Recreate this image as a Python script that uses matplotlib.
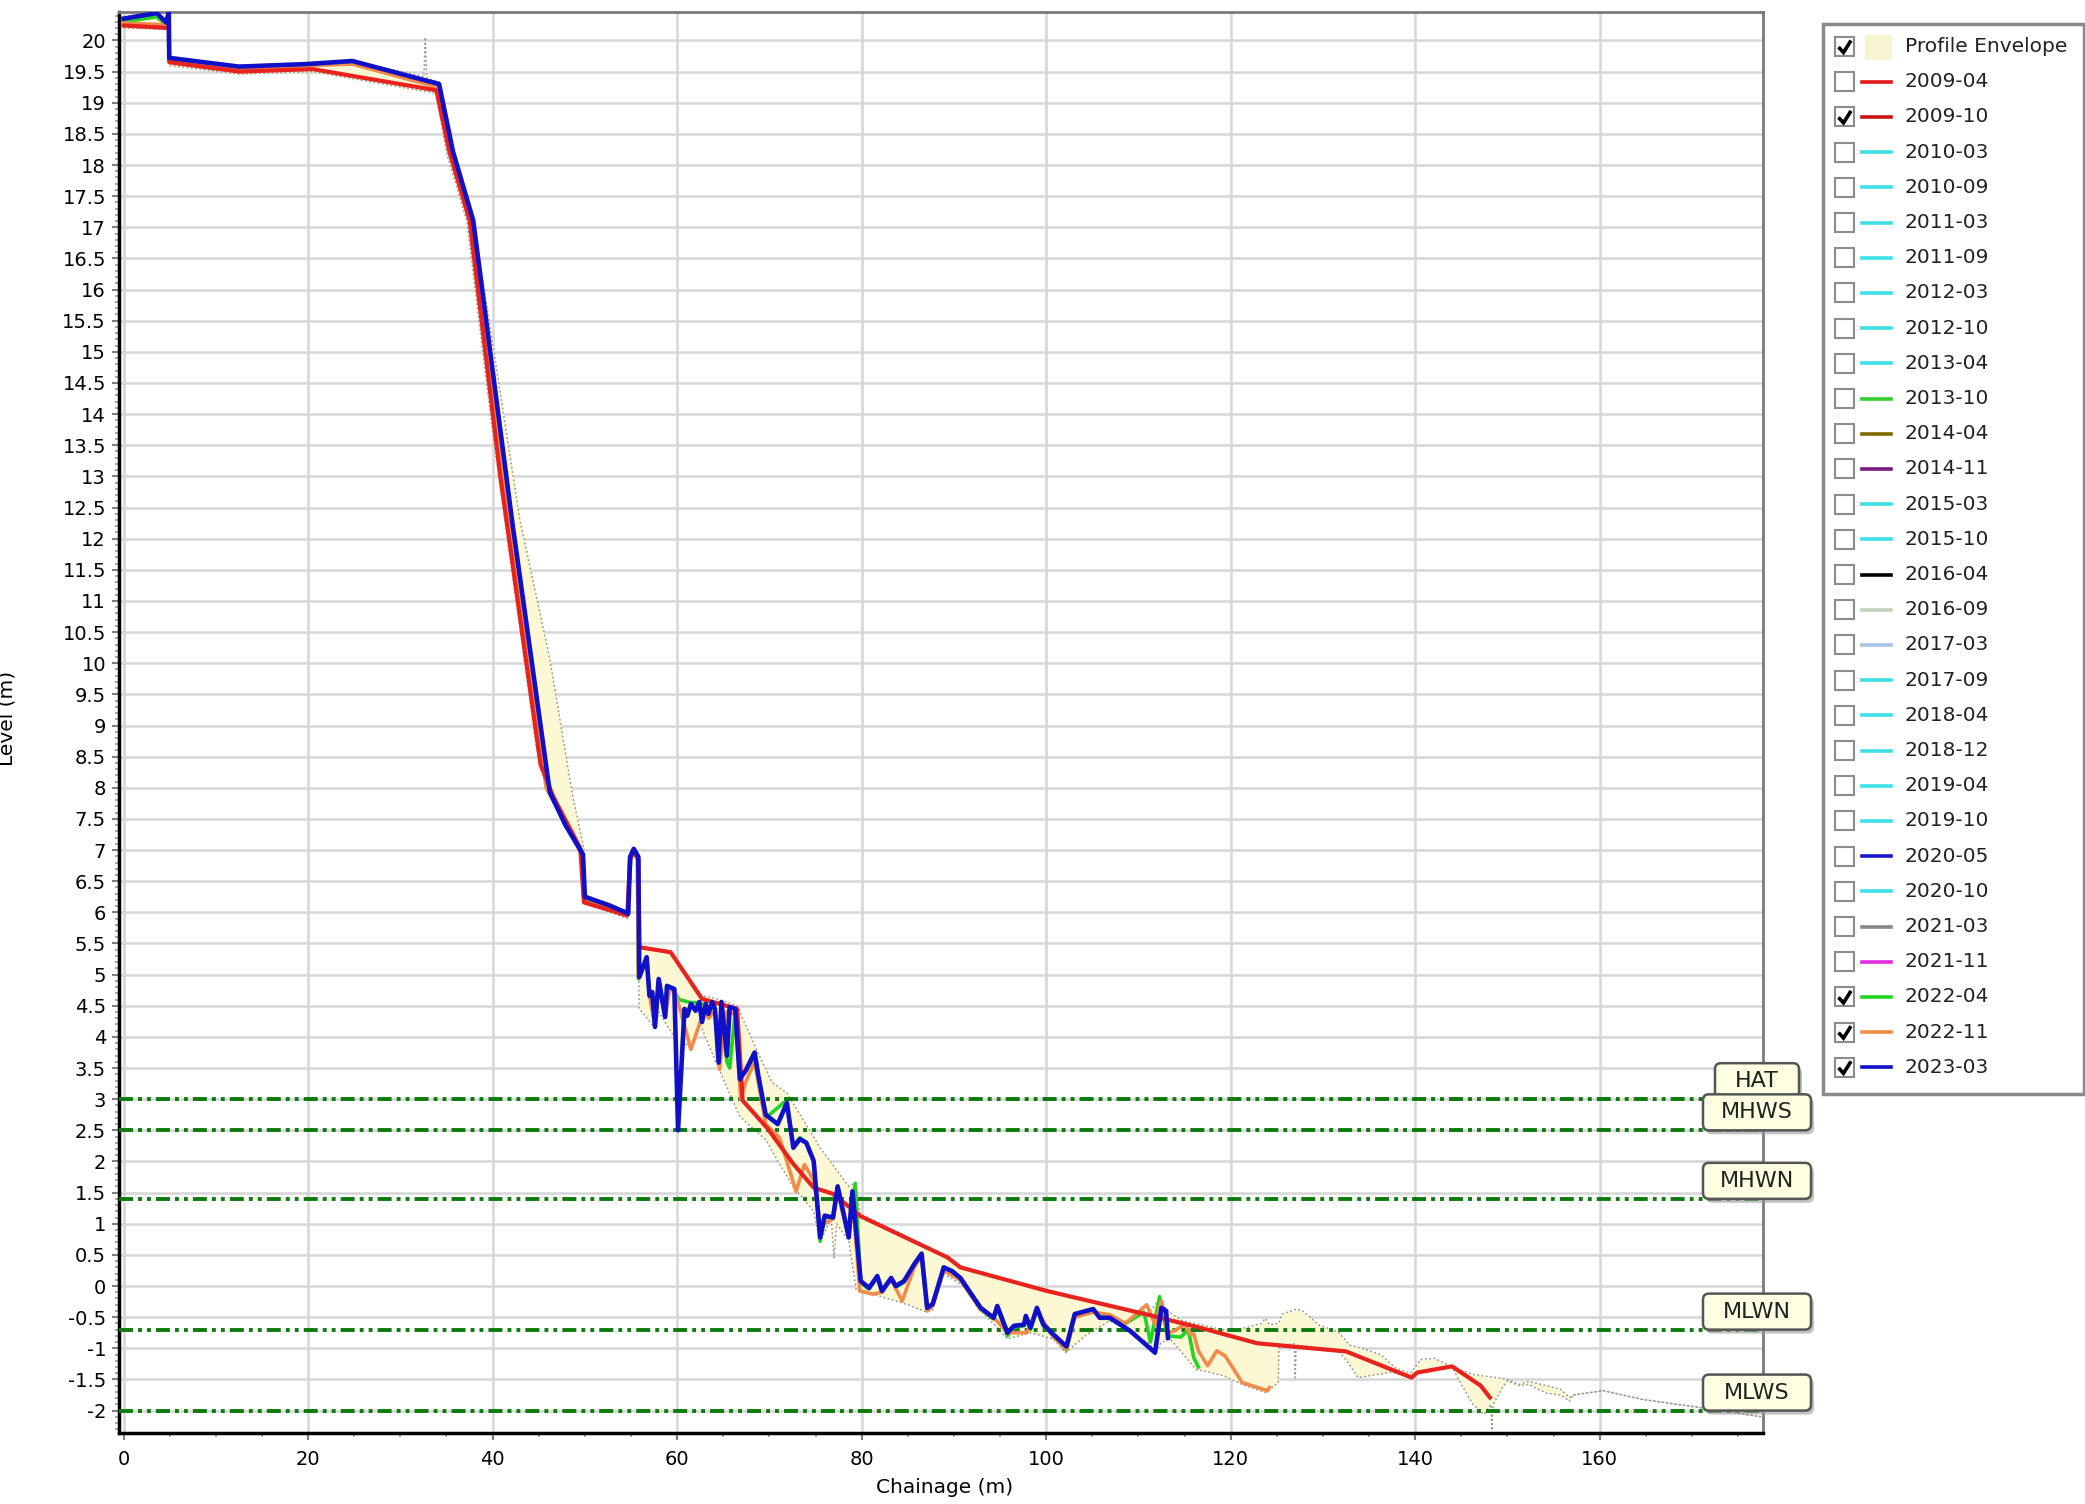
import matplotlib
matplotlib.use("Agg")
import matplotlib.pyplot as plt
import numpy as np
from matplotlib.patches import FancyBboxPatch, Rectangle
from matplotlib.ticker import FuncFormatter, MultipleLocator
from matplotlib.transforms import IdentityTransform

# --- profile data (chainage m, level m) ---
red_x = [0, 4.9, 4.95, 12.5, 20.5, 33.9, 35.3, 37.5, 40.8, 45.2, 46.6, 49.5, 49.9,
         54.6, 54.9, 55.3, 55.8, 55.9, 59.3, 62.7, 66.5, 67.1, 69.8, 72.6, 74.8,
         76.9, 79.9, 89.3, 90.7, 100.1, 111.0, 116.7, 122.9, 132.5, 139.6, 140.2,
         144.0, 147.1, 148.1]
red_y = [20.24, 20.2, 19.65, 19.5, 19.54, 19.2, 18.22, 17.11, 13.04, 8.37, 7.85, 7.03, 6.16,
         5.95, 6.85, 6.98, 6.85, 5.44, 5.36, 4.61, 4.45, 2.98, 2.53, 1.96, 1.58,
         1.48, 1.12, 0.46, 0.3, -0.08, -0.46, -0.67, -0.92, -1.05, -1.47, -1.39,
         -1.29, -1.6, -1.79]

blue_x = [0, 3.6, 4.6, 4.9, 4.95, 12.5, 19.7, 24.8, 34.2, 35.7, 37.9, 42.1, 44.2, 46.2,
          47.9, 49.8, 50.0, 52.7, 54.7, 54.9, 55.3, 55.8, 55.9, 56.7, 57.0, 57.3, 57.6,
          58.0, 58.7, 58.9, 59.7, 60.1, 60.8, 61.1, 61.5, 62.0, 62.4, 62.7, 63.1, 63.4,
          63.8, 64.1, 64.5, 64.8, 65.4, 65.7, 66.3, 66.8, 67.5, 68.4, 68.8, 69.6, 70.9,
          71.9, 72.6, 73.3, 74.0, 74.8, 75.5, 76.0, 76.9, 77.4, 77.9, 78.6, 79.0, 79.9,
          80.8, 81.7, 82.2, 83.2, 83.7, 84.6, 85.7, 86.5, 87.1, 87.7, 88.9, 89.8, 90.7,
          92.9, 94.3, 94.7, 95.8, 96.5, 97.6, 97.8, 98.3, 99.0, 99.7, 100.8, 102.2,
          103.1, 105.1, 105.8, 106.9, 109.1, 111.8, 112.5, 113.0, 113.2]
blue_y = [20.35, 20.44, 20.29, 20.45, 19.72, 19.58, 19.62, 19.67, 19.3, 18.22, 17.11, 12.3,
          10.07, 7.93, 7.4, 6.93, 6.25, 6.11, 5.98, 6.89, 7.02, 6.89, 4.96, 5.28, 4.66,
          4.72, 4.16, 4.93, 4.32, 4.82, 4.77, 2.5, 4.45, 4.34, 4.53, 4.42, 4.56, 4.24,
          4.53, 4.37, 4.56, 4.45, 3.59, 4.56, 3.7, 4.48, 4.45, 3.32, 3.48, 3.75, 3.38,
          2.75, 2.6, 2.94, 2.22, 2.36, 2.3, 2.01, 0.78, 1.13, 1.1, 1.6, 1.26, 0.78, 1.52,
          0.08, -0.03, 0.16, -0.08, 0.13, 0.0, 0.08, 0.35, 0.52, -0.35, -0.29, 0.3, 0.24,
          0.13, -0.35, -0.51, -0.32, -0.75, -0.64, -0.62, -0.48, -0.67, -0.35, -0.62,
          -0.78, -0.97, -0.45, -0.37, -0.51, -0.51, -0.72, -1.07, -0.35, -0.4, -0.83]

green_x = [0, 3.6, 4.6, 4.9, 4.95, 12.5, 19.7, 24.8, 34.0, 35.5, 37.7, 42.0, 44.0, 45.9,
           49.6, 49.9, 54.6, 55.0, 55.3, 55.7, 55.8, 56.7, 57.0, 57.6, 58.0, 58.7, 59.0,
           59.6, 60.2, 61.5, 62.4, 63.1, 64.1, 64.5, 64.8, 65.4, 65.7, 66.3, 66.8, 67.5,
           68.4, 69.6, 71.6, 72.0, 72.6, 73.3, 74.0, 74.8, 75.5, 76.0, 76.9, 77.4, 77.9,
           78.6, 79.3, 79.9, 80.8, 81.7, 82.2, 83.2, 83.7, 84.6, 85.7, 86.5, 87.1, 87.7,
           88.9, 89.8, 90.7, 92.9, 94.3, 94.7, 95.8, 96.5, 97.6, 97.8, 98.3, 99.0, 99.7,
           100.8, 102.2, 103.1, 105.1, 106.9, 108.4, 110.6, 111.3, 112.3, 112.7, 113.2,
           114.6, 115.4, 116.0, 116.5]
green_y = [20.3, 20.38, 20.25, 20.3, 19.7, 19.55, 19.6, 19.63, 19.28, 18.2, 17.1, 12.3,
           10.07, 8.0, 6.95, 6.2, 5.96, 6.9, 7.0, 6.85, 4.93, 5.25, 4.7, 4.2, 4.9, 4.35,
           4.8, 4.75, 4.6, 4.55, 4.55, 4.5, 4.45, 3.7, 4.5, 3.6, 3.5, 4.4, 3.35, 3.45,
           3.7, 2.7, 2.95, 2.8, 2.25, 2.38, 2.3, 2.0, 0.72, 1.1, 1.1, 1.6, 1.25, 0.8,
           1.65, 0.05, -0.05, 0.14, -0.1, 0.1, -0.02, 0.06, 0.33, 0.48, -0.37, -0.3, 0.27,
           0.22, 0.1, -0.38, -0.53, -0.35, -0.8, -0.66, -0.64, -0.5, -0.7, -0.38, -0.64,
           -0.8, -1.03, -0.48, -0.4, -0.53, -0.62, -0.42, -0.9, -0.17, -0.5, -0.8,
           -0.82, -0.7, -1.15, -1.3]

orange_x = [0, 4.9, 4.95, 12.5, 19.7, 24.8, 34.0, 35.4, 37.6, 41.8, 43.9, 45.8, 49.6,
            49.9, 54.6, 55.0, 55.3, 55.7, 55.8, 56.7, 57.0, 57.6, 58.0, 58.7, 59.2, 59.8,
            60.3, 61.5, 62.5, 63.0, 63.4, 64.1, 64.6, 65.3, 65.7, 66.3, 66.9, 67.5, 68.4,
            69.6, 71.1, 72.9, 73.8, 74.8, 75.5, 76.0, 76.9, 77.4, 77.9, 78.6, 79.0, 79.8,
            81.2, 82.2, 83.2, 84.4, 85.7, 86.5, 87.1, 87.7, 88.9, 90.7, 92.9, 94.3, 95.8,
            97.9, 99.0, 100.8, 102.2, 103.1, 105.1, 106.9, 108.6, 110.9, 111.8, 112.5,
            113.2, 113.9, 115.0, 115.7, 116.0, 116.5, 117.5, 118.5, 119.4, 121.25, 122.9,
            124.0, 124.2]
orange_y = [20.28, 20.25, 19.68, 19.53, 19.6, 19.62, 19.25, 18.2, 17.1, 12.3, 10.07, 8.0,
            6.97, 6.18, 5.95, 6.9, 7.0, 6.85, 4.95, 5.26, 4.68, 4.18, 4.92, 4.33, 4.78,
            4.7, 4.45, 3.8, 4.24, 4.45, 4.3, 4.42, 3.48, 4.4, 4.4, 4.35, 3.0, 3.3, 3.6,
            2.6, 2.38, 1.52, 1.95, 1.7, 1.0, 1.0, 1.08, 1.5, 1.2, 0.85, 1.45, -0.08,
            -0.13, -0.1, 0.1, -0.24, 0.3, 0.48, -0.4, -0.32, 0.25, 0.1, -0.38, -0.5, -0.75,
            -0.75, -0.4, -0.82, -1.02, -0.5, -0.42, -0.46, -0.6, -0.3, -0.62, -0.24,
            -0.75, -0.72, -0.62, -0.78, -0.77, -1.04, -1.28, -1.04, -1.12, -1.55, -1.63,
            -1.68, -1.63]

# profile envelope (max / min of all surveys)
env_up_x = [0, 3.6, 4.6, 4.85, 4.95, 12.5, 19.7, 24.8, 32.55, 32.7, 32.85, 34.3, 35.8,
            37.9, 42.96, 46.2, 48.7, 49.9, 50.05, 52.7, 54.65, 54.9, 55.3, 55.75, 55.85,
            59.3, 62.7, 64.1, 66.5, 68.6, 70.3, 71.9, 75.5, 78.6, 79.3, 79.85, 89.3, 90.7,
            100.1, 111.0, 112.4, 113.0, 114.6, 120.0, 123.3, 123.75, 124.2, 125.2, 125.6,
            127.1, 127.9, 129.6, 131.7, 132.9, 134.2, 136.25, 137.9, 139.5, 140.6, 142.1,
            143.75, 146.25, 148.75, 150.0, 151.25, 152.3, 154.2, 155.8, 156.7, 157.1,
            160.4, 164.6, 170.8, 177.5]
env_up_y = [20.38, 20.46, 20.32, 20.46, 19.74, 19.6, 19.64, 19.68, 19.42, 20.05, 19.4,
            19.33, 18.22, 17.15, 12.3, 10.07, 7.85, 7.02, 6.28, 6.13, 6.0, 6.9, 7.05, 6.9,
            5.46, 5.38, 4.66, 4.62, 4.5, 3.8, 3.27, 3.1, 2.22, 1.6, 1.66, 1.16, 0.47, 0.31,
            -0.07, -0.45, -0.2, -0.38, -0.55, -0.73, -0.6, -0.52, -0.62, -0.6, -0.45,
            -0.37, -0.41, -0.63, -0.74, -0.95, -1.0, -1.1, -1.32, -1.4, -1.18, -1.16,
            -1.28, -1.42, -1.47, -1.5, -1.58, -1.53, -1.6, -1.66, -1.79, -1.75,
            -1.68, -1.82, -1.95, -2.1]
env_lo_x = [0, 4.85, 4.95, 12.5, 20.5, 33.9, 35.0, 37.2, 40.1, 44.8, 46.2, 49.5, 49.85,
            54.6, 54.85, 55.3, 55.8, 55.87, 57.6, 58.0, 59.8, 60.1, 60.5, 61.5, 62.5, 63.2,
            64.6, 66.7, 67.1, 69.6, 71.1, 72.6, 74.8, 75.5, 76.7, 77.0, 77.3, 78.6, 79.4,
            81.9, 84.4, 87.1, 87.7, 88.9, 91.1, 93.3, 95.8, 98.3, 100.8, 102.1, 104.4,
            106.9, 108.4, 111.3, 111.8, 112.5, 113.5, 114.6, 116.25, 117.9, 119.4, 121.25,
            123.75, 124.6, 125.15, 125.25, 126.9, 127.0, 127.1, 129.0, 131.5, 132.6, 133.8,
            135.5, 137.5, 139.5, 140.2, 144.0, 145.0, 146.25, 147.5, 148.2, 148.3, 148.45,
            149.5, 150.0, 151.25, 152.3, 154.2, 155.8, 156.7, 157.1, 160.4, 164.6, 170.8,
            177.5]
env_lo_y = [20.2, 20.18, 19.6, 19.46, 19.5, 19.15, 18.2, 17.1, 13.6, 8.6, 7.9, 7.0, 6.15,
            5.9, 6.8, 6.95, 6.82, 4.46, 4.14, 4.4, 3.97, 2.48, 3.95, 3.8, 4.2, 3.95, 3.46,
            2.75, 2.68, 2.35, 1.96, 1.59, 1.2, 0.7, 1.1, 0.45, 1.0, 0.72, -0.05, -0.16,
            -0.27, -0.42, -0.38, 0.2, 0.0, -0.45, -0.85, -0.75, -0.85, -1.07, -0.78, -0.56,
            -0.67, -0.94, -1.1, -0.9, -0.86, -1.05, -1.34, -1.39, -1.45, -1.58, -1.71,
            -1.62, -1.55, -0.95, -0.93, -1.47, -0.95, -0.98, -1.02, -1.2, -1.47, -1.43,
            -1.38, -1.47, -1.4, -1.3, -1.58, -1.9, -2.06, -1.9, -2.32, -1.9, -1.62, -1.52,
            -1.6, -1.58, -1.72, -1.75, -1.85, -1.75, -1.68, -1.82, -1.95, -2.1]

# tidal levels
tide_names = ["HAT", "MHWS", "MHWN", "MLWN", "MLWS"]
tide_levels = [3.0, 2.5, 1.4, -0.7, -2.0]

# legend entries (survey dates)
legend_names = ["Profile Envelope", "2009-04", "2009-10", "2010-03", "2010-09", "2011-03",
                "2011-09", "2012-03", "2012-10", "2013-04", "2013-10", "2014-04", "2014-11",
                "2015-03", "2015-10", "2016-04", "2016-09", "2017-03", "2017-09", "2018-04",
                "2018-12", "2019-04", "2019-10", "2020-05", "2020-10", "2021-03", "2021-11",
                "2022-04", "2022-11", "2023-03"]
CY = "#3ee0e6"
legend_colors = ["#f7f4d2", "#e01a1a", "#c81414", CY, CY, CY, CY, CY, CY, CY, "#33cc33",
                 "#7f6a00", "#7a1a7a", CY, CY, "#000000", "#c4d4bc", "#a6c4e6", CY, CY,
                 CY, CY, CY, "#1a1acc", CY, "#888888", "#e02ce0", "#22d422", "#f28a4a",
                 "#1010c8"]
legend_checked = ["Profile Envelope", "2009-10", "2022-04", "2022-11", "2023-03"]

W, H = 2085, 1504
fig = plt.figure(figsize=(W / 100, H / 100), dpi=100)
ax = fig.add_axes([118.5 / W, 1 - 1433 / H, (1763 - 118.5) / W, (1433 - 12) / H])
ax.set_xlim(-0.55, 177.7)
ax.set_ylim(-2.36, 20.457)

# envelope
xs = np.union1d(env_up_x, env_lo_x)
up = np.interp(xs, env_up_x, env_up_y)
lo = np.interp(xs, env_lo_x, env_lo_y)
ax.fill_between(xs, lo, np.maximum(up, lo), color="#fbf8d3", lw=0, zorder=2)
ax.plot(env_up_x, env_up_y, color="#999999", lw=1.1, ls=(0, (1.2, 1.6)), zorder=2.2)
ax.plot(env_lo_x, env_lo_y, color="#999999", lw=1.1, ls=(0, (1.2, 1.6)), zorder=2.2)

# tide lines
for level in tide_levels:
    ax.axhline(level, color="#0e7a0e", lw=2.8, ls=(0, (3.6, 1.3, 1.0, 1.3, 1.0, 1.3)),
               zorder=3)

ax.plot(green_x, green_y, color="#22d422", lw=2.6, zorder=4)
ax.plot(orange_x, orange_y, color="#f28a4a", lw=2.6, zorder=4.2)
ax.plot(red_x, red_y, color="#e8231e", lw=3.0, zorder=4.4)
ax.plot(blue_x, blue_y, color="#1010c8", lw=3.3, zorder=4.6)

# axes styling
ax.xaxis.set_major_locator(MultipleLocator(20))
ax.xaxis.set_minor_locator(MultipleLocator(5))
ax.yaxis.set_major_locator(MultipleLocator(0.5))
ax.yaxis.set_minor_locator(MultipleLocator(0.1))
ax.yaxis.set_major_formatter(FuncFormatter(lambda v, p: f"{round(v, 2) + 0.0:g}"))
ax.grid(True, which="major", color="#d6d6d6", lw=1.8)
ax.set_axisbelow(True)
ax.tick_params(which="major", length=5, width=1.5, color="#7f7f7f", labelsize=14, pad=4)
ax.tick_params(which="minor", length=3, width=1.2, color="#9a9a9a")
ax.tick_params(axis="x", which="major", pad=7)
for side in ("left", "bottom"):
    ax.spines[side].set_color("black")
    ax.spines[side].set_linewidth(2.5)
for side in ("top", "right"):
    ax.spines[side].set_color("#7a7a7a")
    ax.spines[side].set_linewidth(2)
ax.set_xlabel("Chainage (m)", fontsize=14.5)
ax.set_ylabel("Level (m)", fontsize=14.5)
ax.xaxis.set_label_coords(0.5026, -0.032)
ax.yaxis.set_label_coords(-0.062, 0.503)

# tide label boxes sitting on the right spine
for i, (name, level) in enumerate(zip(tide_names, tide_levels)):
    _, yb = ax.transData.transform((0, level))
    w = 84 if name == "HAT" else 108
    cx = 1757
    z = 7 + 0.1 * i
    ax.add_patch(FancyBboxPatch((cx - w / 2 + 3, yb - 4), w, 36,
                                boxstyle="round,pad=0,rounding_size=6", fc="#9a9a9a",
                                ec="none", alpha=0.6, transform=IdentityTransform(),
                                clip_on=False, zorder=z))
    ax.add_patch(FancyBboxPatch((cx - w / 2, yb), w, 36,
                                boxstyle="round,pad=0,rounding_size=6", fc="#ffffe1",
                                ec="#555555", lw=1.8, transform=IdentityTransform(),
                                clip_on=False, zorder=z + 0.01))
    ax.text(cx, yb + 18, name, transform=IdentityTransform(), ha="center", va="center",
            fontsize=16, color="#222222", zorder=z + 0.02, clip_on=False)

# legend panel
lax = fig.add_axes([1823 / W, 1 - 1094 / H, (2084 - 1823) / W, (1094 - 24) / H])
lax.set_xlim(0, 261)
lax.set_ylim(1070, 0)
lax.axis("off")
lax.add_patch(Rectangle((0, 0), 261, 1070, fill=False, ec="#8a8a8a", lw=2.5, clip_on=False))
for i, (name, color) in enumerate(zip(legend_names, legend_colors)):
    yc = 22.5 + i * 35.2
    lax.add_patch(Rectangle((12, yc - 9.5), 19, 19, fc="white", ec="#8c8c8c", lw=1.5))
    if name in legend_checked:
        lax.plot([15.5, 20.5, 28], [yc + 0.5, yc + 6, yc - 6], color="black", lw=2.6,
                 solid_capstyle="butt", solid_joinstyle="miter")
    if i == 0:
        lax.add_patch(Rectangle((42, yc - 12), 27, 25, fc=color, ec="none"))
    else:
        lax.plot([39, 68], [yc, yc], color=color, lw=2.6)
    lax.text(82, yc, name, va="center", ha="left", fontsize=14.5, color="#222222")

fig.savefig("out.png", dpi=100, facecolor="white")
